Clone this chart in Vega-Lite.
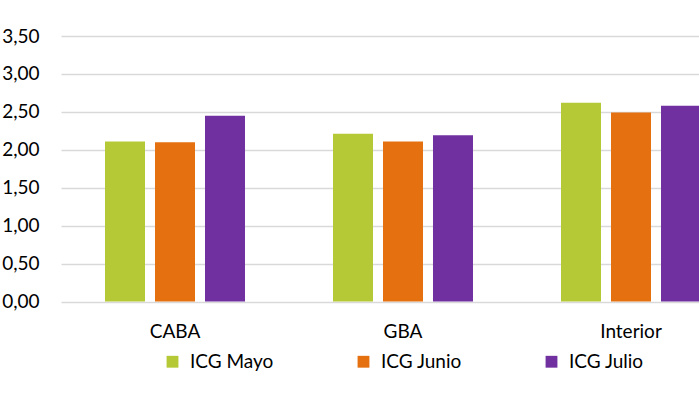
{
  "$schema": "https://vega.github.io/schema/vega-lite/v6.json",
  "width": 684,
  "height": 265.5,
  "autosize": {"type": "none"},
  "padding": {"left": 61, "top": 36, "right": 0, "bottom": 92},
  "background": "#ffffff",
  "config": {
    "locale": {"number": {"decimal": ",", "thousands": ".", "grouping": [3], "currency": ["$", ""]}},
    "font": "Lato",
    "view": {"stroke": null},
    "axis": {"labelFont": "Lato", "labelColor": "#000000", "labelFontSize": 19},
    "legend": {"labelFont": "Lato", "labelColor": "#000000", "labelFontSize": 19, "layout": {"bottom": {"anchor": "middle"}}}
  },
  "data": {
    "values": [
      {"region": "CABA", "serie": "ICG Mayo", "valor": 2.11},
      {"region": "CABA", "serie": "ICG Junio", "valor": 2.10},
      {"region": "CABA", "serie": "ICG Julio", "valor": 2.45},
      {"region": "GBA", "serie": "ICG Mayo", "valor": 2.21},
      {"region": "GBA", "serie": "ICG Junio", "valor": 2.11},
      {"region": "GBA", "serie": "ICG Julio", "valor": 2.19},
      {"region": "Interior", "serie": "ICG Mayo", "valor": 2.62},
      {"region": "Interior", "serie": "ICG Junio", "valor": 2.49},
      {"region": "Interior", "serie": "ICG Julio", "valor": 2.58}
    ]
  },
  "mark": {"type": "bar"},
  "encoding": {
    "x": {
      "field": "region",
      "type": "nominal",
      "sort": ["CABA", "GBA", "Interior"],
      "scale": {"paddingInner": 0.386, "paddingOuter": 0.193},
      "axis": {"title": null, "labelAngle": 0, "ticks": false, "domain": false, "grid": false, "labelPadding": 21}
    },
    "xOffset": {
      "field": "serie",
      "type": "nominal",
      "sort": ["ICG Mayo", "ICG Junio", "ICG Julio"],
      "scale": {"paddingInner": 0.2, "paddingOuter": 0}
    },
    "y": {
      "field": "valor",
      "type": "quantitative",
      "scale": {"domain": [0, 3.5], "nice": false},
      "axis": {
        "title": null,
        "values": [0, 0.5, 1, 1.5, 2, 2.5, 3, 3.5],
        "format": ".2f",
        "ticks": false,
        "domain": false,
        "grid": true,
        "gridColor": "#d9d9d9",
        "gridWidth": 1.5,
        "labelPadding": 22
      }
    },
    "color": {
      "field": "serie",
      "type": "nominal",
      "sort": ["ICG Mayo", "ICG Junio", "ICG Julio"],
      "scale": {"domain": ["ICG Mayo", "ICG Junio", "ICG Julio"], "range": ["#b5c936", "#e4700f", "#7030a0"]},
      "legend": {
        "orient": "bottom",
        "direction": "horizontal",
        "title": null,
        "symbolType": "square",
        "symbolSize": 140,
        "symbolStrokeWidth": 0,
        "labelOffset": 8,
        "columnPadding": 80,
        "offset": 10
      }
    }
  }
}
